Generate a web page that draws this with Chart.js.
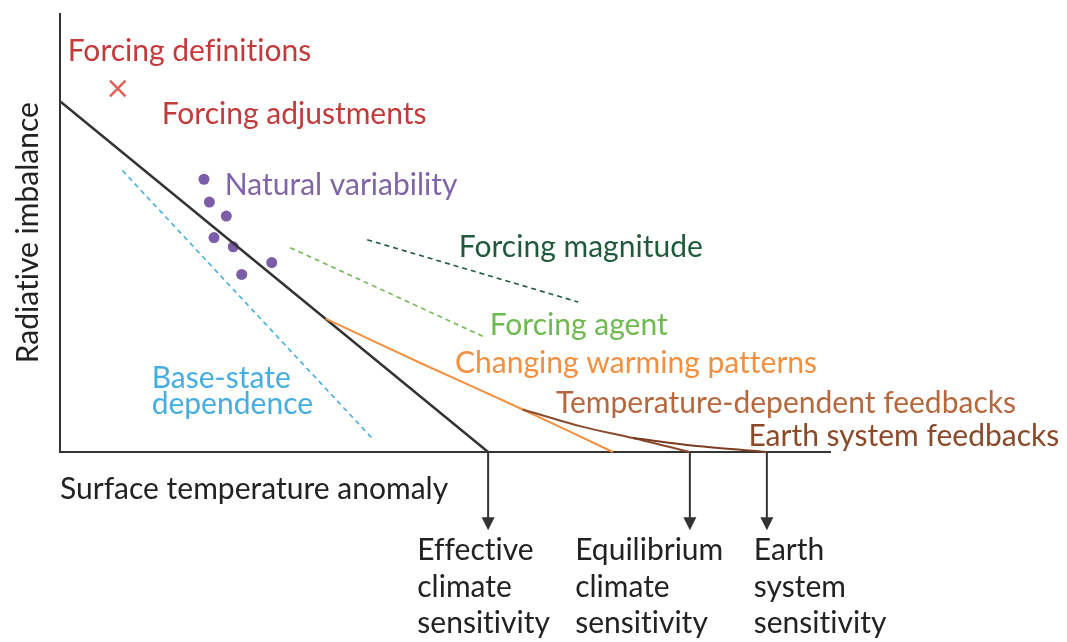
<!DOCTYPE html>
<html>
<head>
<meta charset="utf-8">
<script src="https://cdn.jsdelivr.net/npm/chart.js@4/dist/chart.umd.min.js"></script>
<style>
  html, body { margin: 0; padding: 0; background: #fff; }
  #chart { display: block; }
</style>
</head>
<body>
<canvas id="chart" width="1067" height="642"></canvas>
<script>
// schematic values, arbitrary units (x: surface temp anomaly, y: radiative imbalance)
const netFeedbackLine = [{ x: 0, y: 8.0 }, { x: 5.56, y: 0 }];
const warmingPatternLine = [{ x: 3.45, y: 3.04 }, { x: 4.68, y: 2.03 }, { x: 6.01, y: 0.97 }, { x: 7.18, y: 0 }];
const tempFeedbackLine = [{ x: 6.01, y: 0.97 }, { x: 6.75, y: 0.59 }, { x: 7.44, y: 0.32 }, { x: 8.18, y: 0 }];
const earthFeedbackLine = [{ x: 7.44, y: 0.32 }, { x: 8.31, y: 0.13 }, { x: 9.18, y: 0 }];
const baseStateLine = [{ x: 0.81, y: 6.42 }, { x: 4.05, y: 0.32 }];
const agentLine = [{ x: 2.99, y: 4.66 }, { x: 5.49, y: 2.64 }];
const magnitudeLine = [{ x: 3.99, y: 4.84 }, { x: 6.73, y: 3.42 }];
const variabilityPoints = [
  { x: 1.87, y: 6.22 }, { x: 1.94, y: 5.70 }, { x: 2.16, y: 5.38 }, { x: 2.0, y: 4.89 },
  { x: 2.25, y: 4.68 }, { x: 2.75, y: 4.32 }, { x: 2.36, y: 4.05 }
];
const forcingPoint = [{ x: 0.75, y: 8.29 }];
const sensitivityX = [5.56, 8.18, 9.18];
const arrowEndY = -1.6;
const sensitivityNames = [
  ["Effective", "climate", "sensitivity"],
  ["Equilibrium", "climate", "sensitivity"],
  ["Earth", "system", "sensitivity"]
];

const FONT = "Lato, 'Open Sans', sans-serif";

// text labels, anchored in data units (left edge, vertical middle)
const labels = [
  { text: "Forcing definitions", x: 0.10, y: 9.14, color: "#c23a3a" },
  { text: "Forcing adjustments", x: 1.32, y: 7.70, color: "#c23a3a" },
  { text: "Natural variability", x: 2.14, y: 6.08, color: "#8064a8" },
  { text: "Forcing magnitude", x: 5.18, y: 4.66, color: "#1f5a3a" },
  { text: "Forcing agent", x: 5.58, y: 2.88, color: "#6dbb4f" },
  { text: "Changing warming patterns", x: 5.13, y: 2.03, color: "#f29040" },
  { text: "Temperature-dependent feedbacks", x: 6.44, y: 1.10, color: "#b5673e" },
  { text: "Earth system feedbacks", x: 8.94, y: 0.36, color: "#8a4a2a" },
  { text: "Base-state", x: 1.19, y: 1.69, color: "#45aee0" },
  { text: "dependence", x: 1.19, y: 1.08, color: "#45aee0" },
  { text: "Surface temperature anomaly", x: 0, y: -0.86, color: "#222" }
];
const nameX = [4.64, 6.69, 9.01];

const arrowDatasets = sensitivityX.map(function (sx) {
  return {
    data: [{ x: sx, y: 0 }, { x: sx, y: arrowEndY }],
    showLine: true,
    borderColor: "#333",
    borderWidth: 2,
    clip: false,
    pointRadius: 0,
    arrow: true
  };
});

function lineSet(data, color, width, dash, tension) {
  return {
    data: data,
    showLine: true,
    borderColor: color,
    borderWidth: width,
    borderDash: dash || [],
    tension: tension || 0,
    pointRadius: 0,
    clip: false
  };
}

const textPlugin = {
  id: "textLabels",
  afterDatasetsDraw(chart) {
    const ctx = chart.ctx;
    const xs = chart.scales.x;
    const ys = chart.scales.y;
    ctx.save();
    // arrowheads at the end of the sensitivity arrows
    chart.data.datasets.forEach(function (ds, i) {
      if (!ds.arrow) return;
      const pts = chart.getDatasetMeta(i).data;
      const end = pts[pts.length - 1];
      ctx.fillStyle = "#333";
      ctx.beginPath();
      ctx.moveTo(end.x - 6.5, end.y - 5);
      ctx.lineTo(end.x + 6.5, end.y - 5);
      ctx.lineTo(end.x, end.y + 8);
      ctx.closePath();
      ctx.fill();
    });
    ctx.font = "30px " + FONT;
    ctx.letterSpacing = "0.01px"; // stops the "ti" ligature
    ctx.textBaseline = "middle";
    ctx.textAlign = "left";
    labels.forEach(function (l) {
      ctx.fillStyle = l.color;
      ctx.fillText(l.text, xs.getPixelForValue(l.x), ys.getPixelForValue(l.y));
    });
    // sensitivity names under the arrows
    ctx.fillStyle = "#222";
    sensitivityNames.forEach(function (lines, i) {
      lines.forEach(function (t, j) {
        ctx.fillText(t, xs.getPixelForValue(nameX[i]), ys.getPixelForValue(-2.25 - j * 0.83));
      });
    });
    // y axis title
    ctx.translate(28, (chart.chartArea.top + chart.chartArea.bottom) / 2);
    ctx.rotate(-Math.PI / 2);
    ctx.textAlign = "center";
    ctx.fillText("Radiative imbalance", 0, 0);
    ctx.restore();
  }
};

const ctx = document.getElementById("chart").getContext("2d");
new Chart(ctx, {
  type: "scatter",
  data: {
    datasets: [
      lineSet(baseStateLine, "#45aee0", 1.6, [5, 4]),
      lineSet(agentLine, "#6dbb4f", 1.6, [5, 4]),
      lineSet(magnitudeLine, "#1f5a3a", 1.6, [5, 4]),
      lineSet(earthFeedbackLine, "#7a3e22", 2, null, 0.3),
      lineSet(tempFeedbackLine, "#8b4a2b", 2, null, 0.3),
      lineSet(warmingPatternLine, "#f29040", 2, null, 0.3),
      lineSet(netFeedbackLine, "#333", 2.5),
      {
        data: variabilityPoints,
        pointRadius: 5.5,
        pointBackgroundColor: "#7b5ea7",
        pointBorderWidth: 0
      },
      {
        data: forcingPoint,
        pointStyle: "crossRot",
        pointRadius: 11,
        pointBorderColor: "#e0605a",
        pointBorderWidth: 2.5
      }
    ].concat(arrowDatasets)
  },
  options: {
    responsive: false,
    animation: false,
    devicePixelRatio: 1,
    layout: { padding: { left: 60, top: 8, right: 237, bottom: 190 } },
    plugins: { legend: { display: false }, tooltip: { enabled: false } },
    scales: {
      x: {
        type: "linear",
        min: 0,
        max: 10,
        grid: { display: false },
        ticks: { display: false },
        border: { display: true, color: "#333", width: 2 },
        afterFit: function (scale) { scale.height = 0; }
      },
      y: {
        type: "linear",
        min: 0,
        max: 10,
        grid: { display: false },
        ticks: { display: false },
        border: { display: true, color: "#333", width: 2 },
        afterFit: function (scale) { scale.width = 0; }
      }
    }
  },
  plugins: [textPlugin]
});
</script>
</body>
</html>
